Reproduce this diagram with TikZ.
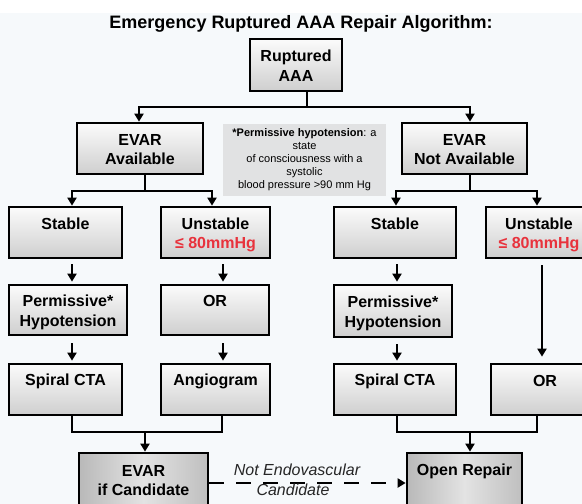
\documentclass[tikz,border=0pt]{standalone}
\usepackage{fontspec}
\setmainfont{Liberation Sans}
\usetikzlibrary{arrows.meta}
\definecolor{bgc}{HTML}{F6F9FB}
\definecolor{redtxt}{HTML}{E8323C}
\definecolor{notegray}{HTML}{E1E2E3}
\newcommand\bs{\rule[-3.3pt]{0pt}{19.5pt}}
\begin{document}
\begin{tikzpicture}[x=1pt,y=-1pt,
  boxbase/.style={draw=black, line width=2.7pt, align=center, inner sep=0pt,
    font=\bfseries\fontsize{16}{19.5}\selectfont},
  lbox/.style={boxbase, top color=gray!3, bottom color=gray!38},
  dbox/.style={boxbase, left color=gray!55, right color=gray!50, middle color=gray!22},
  conn/.style={line width=2.7pt},
  arr/.style={conn, -{Triangle[width=9pt,length=8pt]}},
]
\clip (0,0) rectangle (582,504);
\fill[bgc] (0,0) rectangle (582,504);
\fill[white] (0,0) rectangle (582,13);

\node[font=\bfseries\fontsize{18}{20}\selectfont, anchor=base] (title) at (301,28) {Emergency Ruptured AAA Repair Algorithm:};

% boxes
\node[lbox, minimum width=92pt, minimum height=52pt] (rupt) at (296,65) {\bs Ruptured\\\bs AAA};
\node[lbox, minimum width=126pt, minimum height=51pt] (evarA) at (140,148.5) {\bs EVAR\\\bs Available};
\node[lbox, minimum width=125pt, minimum height=51pt] (evarN) at (464.5,148.5) {\bs EVAR\\\bs Not Available};
\node[fill=notegray, minimum width=163pt, minimum height=72pt, align=center, inner sep=0pt,
  font=\fontsize{11}{13}\selectfont] (note) at (304.5,160)
  {\textbf{*Permissive hypotension}: a\\state\\of consciousness with a\\systolic\\blood pressure >90 mm Hg};

\node[lbox, minimum width=113pt, minimum height=51pt] (stableL) at (65.5,232.5) {\bs Stable\\\bs};
\node[lbox, minimum width=109pt, minimum height=51pt] (unstL) at (215.5,232.5) {\bs Unstable\\\bs{\color{redtxt}≤ 80mmHg}};
\node[lbox, minimum width=122pt, minimum height=51pt] (stableR) at (395,232.5) {\bs Stable\\\bs};
\node[lbox, minimum width=106pt, minimum height=51pt] (unstR) at (539,232.5) {\bs Unstable\\\bs{\color{redtxt}≤ 80mmHg}};

\node[lbox, minimum width=118pt, minimum height=50pt] (permL) at (68,310) {\bs Permissive*\\\bs Hypotension};
\node[lbox, minimum width=108pt, minimum height=50pt] (orL) at (215,310) {\bs OR\\\bs};
\node[lbox, minimum width=118pt, minimum height=52pt] (permR) at (393,311) {\bs Permissive*\\\bs Hypotension};

\node[lbox, minimum width=113pt, minimum height=51pt] (ctaL) at (65.5,389.5) {\bs Spiral CTA\\\bs};
\node[lbox, minimum width=109pt, minimum height=51pt] (angio) at (215.5,389.5) {\bs Angiogram\\\bs};
\node[lbox, minimum width=122pt, minimum height=51pt] (ctaR) at (395,389.5) {\bs Spiral CTA\\\bs};
\node[lbox, minimum width=108pt, minimum height=51pt] (orR) at (545,389.5) {\bs OR\\\bs};

\node[dbox, minimum width=129pt, minimum height=53pt] (evarC) at (143.5,479.5) {\bs EVAR\\\bs if Candidate};
\node[dbox, minimum width=115pt, minimum height=53pt] (open) at (464.5,479.5) {\bs Open Repair\\\bs};

% junctions and columns
\coordinate (j0) at (307,107);
\coordinate (j1) at (145,191);
\coordinate (j2) at (470,191);
\coordinate (xL1) at (72,0);
\coordinate (xL2) at (223,0);
\coordinate (xR1) at (397,0);
\coordinate (xR2) at (542,0);
\coordinate (xL3) at (222,0);
\coordinate (xR3) at (537,0);
\coordinate (m1) at (145,432);
\coordinate (m2) at (470,432);
\coordinate (dy) at (0,483);

% top split
\draw[conn] (rupt.south -| j0) -- (j0);
\draw[arr] (j0) -| ([xshift=-1pt]evarA.north);
\draw[arr] (j0) -| ([xshift=5.5pt]evarN.north);

% EVAR available split
\draw[conn] (evarA.south -| j1) -- (j1);
\draw[arr] (j1) -| ([xshift=6.5pt]stableL.north);
\draw[arr] (j1) -| ([xshift=-3.5pt]unstL.north);

% EVAR not available split
\draw[conn] (evarN.south -| j2) -- (j2);
\draw[arr] (j2) -| ([xshift=1pt]stableR.north);
\draw[arr] (j2) -| ([xshift=-2pt]unstR.north);

% vertical arrows
\draw[arr, shorten <=5pt, shorten >=2pt] (stableL.south -| xL1) -- (permL.north -| xL1);
\draw[arr, shorten <=5pt, shorten >=2pt] (unstL.south -| xL2) -- (orL.north -| xL2);
\draw[arr, shorten <=7pt, shorten >=2pt] (permL.south -| xL1) -- (ctaL.north -| xL1);
\draw[arr, shorten <=7pt, shorten >=2pt] (orL.south -| xL2) -- (angio.north -| xL2);
\draw[arr, shorten <=5pt, shorten >=2pt] (stableR.south -| xR1) -- (permR.north -| xR1);
\draw[arr, shorten <=6pt, shorten >=2pt] (permR.south -| xR1) -- (ctaR.north -| xR1);
\draw[arr, shorten <=6pt, shorten >=6pt] (unstR.south -| xR2) -- (orR.north -| xR2);

% merges
\draw[conn] (ctaL.south -| xL1) -- (xL1 |- m1) -- (xL3 |- m1) -- (angio.south -| xL3);
\draw[arr] (m1) -- (evarC.north -| m1);
\draw[conn] (ctaR.south -| xR1) -- (xR1 |- m2) -- (xR3 |- m2) -- (orR.south -| xR3);
\draw[arr] (m2) -- (open.north -| m2);

% dashed
\draw[arr, dash pattern=on 15pt off 12pt] (evarC.east |- dy) -- (open.west |- dy);
\node[font=\itshape\fontsize{16}{19}\selectfont, text=black!85, inner sep=0pt] (ne) at (297,470) {Not Endovascular};
\node[font=\itshape\fontsize{16}{19}\selectfont, text=black!85, inner sep=0pt] (cand) at (293,490) {Candidate};
\end{tikzpicture}
\end{document}
